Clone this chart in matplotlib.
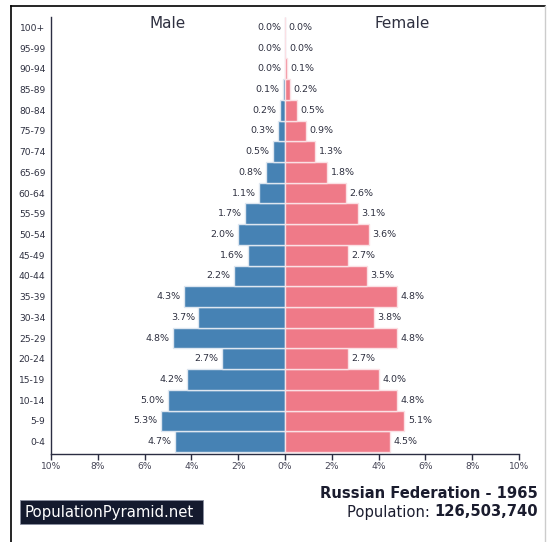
import matplotlib
matplotlib.use("Agg")
import matplotlib.pyplot as plt
from matplotlib.patches import Rectangle
from matplotlib.lines import Line2D

age_groups = ["0-4", "5-9", "10-14", "15-19", "20-24", "25-29", "30-34", "35-39",
              "40-44", "45-49", "50-54", "55-59", "60-64", "65-69", "70-74", "75-79",
              "80-84", "85-89", "90-94", "95-99", "100+"]
male = [4.7, 5.3, 5.0, 4.2, 2.7, 4.8, 3.7, 4.3, 2.2, 1.6, 2.0, 1.7, 1.1, 0.8, 0.5, 0.3,
        0.2, 0.1, 0.0, 0.0, 0.0]
female = [4.5, 5.1, 4.8, 4.0, 2.7, 4.8, 3.8, 4.8, 3.5, 2.7, 3.6, 3.1, 2.6, 1.8, 1.3, 0.9,
          0.5, 0.2, 0.1, 0.0, 0.0]
# bar lengths drawn slightly from labels (tiny values visible as slivers)
male_bar = [4.7, 5.3, 5.0, 4.2, 2.7, 4.8, 3.7, 4.3, 2.2, 1.6, 2.0, 1.7, 1.1, 0.8, 0.5, 0.3,
            0.2, 0.1, 0.02, 0.0, 0.0]
female_bar = [4.5, 5.1, 4.8, 4.0, 2.7, 4.8, 3.8, 4.8, 3.5, 2.7, 3.6, 3.1, 2.6, 1.8, 1.3, 0.9,
              0.5, 0.2, 0.1, 0.02, 0.0]
xticks = [-10, -8, -6, -4, -2, 0, 2, 4, 6, 8, 10]
country = "Russian Federation - 1965"
population = "126,503,740"

W, H = 547, 542
fig = plt.figure(figsize=(W / 100, H / 100), dpi=100)
fig.patch.set_facecolor("white")

male_c = "#4682b4"
female_c = "#ef7a88"
txt_c = "#2e3040"
spine_c = "#2b2d42"

ax = fig.add_axes([51 / W, 1 - 454 / H, 468 / W, 437 / H])
y = list(range(len(age_groups)))
ax.barh(y, [-v for v in male_bar], height=1.0, color=male_c, edgecolor="#dde6f0", linewidth=1)
ax.barh(y, female_bar, height=1.0, color=female_c, edgecolor="#fbe0e4", linewidth=1)

for i in y:
    ax.annotate(f"{male[i]:.1f}%", (-male_bar[i], i), xytext=(-2.5, 0), textcoords="offset points",
                ha="right", va="center", fontsize=6.8, color=txt_c)
    ax.annotate(f"{female[i]:.1f}%", (female_bar[i], i), xytext=(2.5, 0), textcoords="offset points",
                ha="left", va="center", fontsize=6.8, color=txt_c)

ax.set_xlim(-10, 10)
ax.set_ylim(-0.6, 20.5)
ax.set_yticks(y)
ax.set_yticklabels(age_groups, fontsize=6.6, color=txt_c)
ax.tick_params(axis="y", length=0, pad=4)
ax.set_xticks(xticks)
ax.set_xticklabels([f"{abs(t)}%" for t in xticks], fontsize=6.6, color="#444455")
ax.tick_params(axis="x", length=4, width=1, color=spine_c, pad=1.5)
for s in ["top", "right"]:
    ax.spines[s].set_visible(False)
for s in ["left", "bottom"]:
    ax.spines[s].set_color(spine_c)
    ax.spines[s].set_linewidth(1)
ax.set_facecolor("white")

fig.text(168 / W, 1 - 23 / H, "Male", ha="center", va="center", fontsize=11, color=txt_c)
fig.text(402 / W, 1 - 23 / H, "Female", ha="center", va="center", fontsize=11, color=txt_c)

# frame
fig.add_artist(Line2D([11 / W, 11 / W], [0, 1 - 6 / H], color="black", lw=1.2))
fig.add_artist(Line2D([11 / W, 545 / W], [1 - 6 / H, 1 - 6 / H], color="black", lw=1.2))
fig.add_artist(Line2D([545 / W, 545 / W], [0, 1 - 6 / H], color="#cccccc", lw=1.0))

# logo box
fig.add_artist(Rectangle((20 / W, 1 - 524 / H), 183 / W, 24 / H, facecolor="#141a2e",
                         edgecolor="#8a8fa0", lw=0.6))
fig.text(24 / W, 1 - 512 / H, "PopulationPyramid.net", ha="left", va="center",
         fontsize=10.7, color="white")

fig.text(538 / W, 1 - 494 / H, country, ha="right", va="center", fontsize=10.6,
         fontweight="bold", color="#1a1c2e")
t_bold = fig.text(538 / W, 1 - 512 / H, population, ha="right", va="center", fontsize=10.6,
                  fontweight="bold", color="#1a1c2e")
fig.canvas.draw()
bb = t_bold.get_window_extent()
fig.text(bb.x0 / W, 1 - 512 / H, "Population: ", ha="right", va="center", fontsize=10.6,
         color="#1a1c2e")

fig.savefig("out.png", dpi=100, facecolor="white")
